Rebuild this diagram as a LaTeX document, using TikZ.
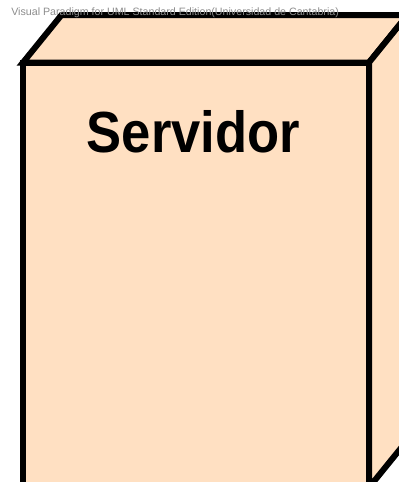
\documentclass[tikz,border=0pt]{standalone}
\usepackage{fontspec}
\setmainfont{Liberation Sans}
\definecolor{nodefill}{HTML}{FFE0C2}
\definecolor{markgray}{HTML}{8C8C8C}
\tikzset{
  facebox/.style={draw, fill=nodefill, line width=4.5pt, line join=miter},
}
\begin{document}
\begin{tikzpicture}[x=0.75pt,y=-0.75pt]
\useasboundingbox (0,0) rectangle (399,482);
\clip (0,0) rectangle (399,482);
% front face of the node
\node[facebox, minimum width=259.5pt, minimum height=318.75pt, inner sep=0pt, outer sep=0pt, anchor=north west] (front) at (23,62.5) {};
% top and side faces
\draw[facebox] (front.north west) -- ++(38.5,-47.5) -- ++(346,0) -- (front.north east) -- cycle;
\draw[facebox] (front.north east) -- ++(38.5,-47.5) -- ++(0,425) -- (front.south east) -- cycle;
\node[font=\fontsize{43.5}{43.5}\selectfont\bfseries, inner sep=0pt, anchor=base, xscale=0.906] (title) at (193.5,152) {Servidor};
\node[text=markgray, font=\fontsize{8}{8}\selectfont, inner sep=0pt, anchor=base west] (mark) at (11,15) {Visual Paradigm for UML Standard Edition(Universidad de Cantabria)};
\end{tikzpicture}
\end{document}
